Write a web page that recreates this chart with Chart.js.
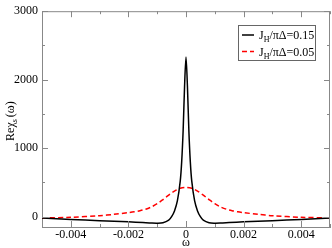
<!DOCTYPE html>
<html>
<head>
<meta charset="utf-8">
<script src="https://cdn.jsdelivr.net/npm/chart.js@4"></script>
<style>
  html, body { margin: 0; padding: 0; background: #fff; }
  #wrap { width: 332px; height: 248px; }
</style>
</head>
<body>
<div id="wrap"><canvas id="chart" width="332" height="248"></canvas></div>
<script>
// J_H/piDelta = 0.15 (black): omega and Re chi_s
const omegaStrong = [-0.005, -0.004, -0.003, -0.0025, -0.002, -0.0015, -0.0012, -0.001, -0.0008, -0.0006, -0.0005, -0.0004, -0.0003, -0.0002, -0.00015, -0.0001, -0.00005, 0,
  0.00005, 0.0001, 0.00015, 0.0002, 0.0003, 0.0004, 0.0005, 0.0006, 0.0008, 0.001, 0.0012, 0.0015, 0.002, 0.0025, 0.003, 0.004, 0.005];
const chiStrong = [-20, -40, -58, -66, -75, -86, -93, -95, -88, -50, 0, 85, 230, 520, 800, 1250, 1900, 2330,
  1900, 1250, 800, 520, 230, 85, 0, -50, -88, -95, -93, -86, -75, -66, -58, -40, -20];
// J_H/piDelta = 0.05 (red dashed)
const omegaWeak = [-0.005, -0.004, -0.003, -0.0025, -0.002, -0.0018, -0.0016, -0.0014, -0.0012, -0.001, -0.0008, -0.0006, -0.0004, -0.0002, 0,
  0.0002, 0.0004, 0.0006, 0.0008, 0.001, 0.0012, 0.0014, 0.0016, 0.0018, 0.002, 0.0025, 0.003, 0.004, 0.005];
const chiWeak = [-18, -8, 15, 35, 60, 72, 88, 110, 143, 190, 250, 315, 375, 415, 428,
  415, 375, 315, 250, 190, 143, 110, 88, 72, 60, 35, 15, -8, -18];
const seriesNames = ['0.15', '0.05'];
const xTicks = [-0.004, -0.002, 0, 0.002, 0.004];
const xMinor = [-0.005, -0.003, -0.001, 0.001, 0.003, 0.005];
const yTicks = [0, 1000, 2000, 3000];
const yMinor = [500, 1500, 2500];

const FONT = '"Liberation Serif", "DejaVu Serif", serif';
const frameColor = '#888';

function pts(xs, ys) { return xs.map((x, i) => ({ x: x, y: ys[i] })); }

// draws inward ticks on all four sides, top/right frame, titles and legend
const decor = {
  id: 'decor',
  afterDraw(chart) {
    const { ctx, chartArea: a, scales } = chart;
    const xs = scales.x, ys = scales.y;
    ctx.save();
    ctx.strokeStyle = frameColor;
    ctx.lineWidth = 1;
    ctx.beginPath();
    ctx.moveTo(a.left, a.top + 0.5); ctx.lineTo(a.right, a.top + 0.5);
    ctx.moveTo(a.right - 0.5, a.top); ctx.lineTo(a.right - 0.5, a.bottom);
    const tx = (v, len) => {
      const p = Math.round(xs.getPixelForValue(v)) + 0.5;
      ctx.moveTo(p, a.bottom); ctx.lineTo(p, a.bottom - len);
      ctx.moveTo(p, a.top); ctx.lineTo(p, a.top + len);
    };
    const ty = (v, len) => {
      const p = Math.round(ys.getPixelForValue(v)) + 0.5;
      ctx.moveTo(a.left, p); ctx.lineTo(a.left + len, p);
      ctx.moveTo(a.right, p); ctx.lineTo(a.right - len, p);
    };
    xTicks.forEach(v => tx(v, 6));
    xMinor.forEach(v => tx(v, 3));
    yTicks.forEach(v => ty(v, 6));
    yMinor.forEach(v => ty(v, 3));
    ctx.stroke();

    ctx.fillStyle = '#000';
    // x title
    ctx.font = '12px ' + FONT;
    ctx.textAlign = 'center';
    ctx.textBaseline = 'middle';
    ctx.fillText('ω', xs.getPixelForValue(0), 243);

    // y title with subscript
    ctx.save();
    ctx.translate(10, (a.top + a.bottom) / 2 + 2);
    ctx.rotate(-Math.PI / 2);
    ctx.textAlign = 'left';
    ctx.textBaseline = 'alphabetic';
    const parts = [['Reχ', 12, 0], ['s', 8, 3], ['(ω)', 12, 0]];
    let total = 0;
    parts.forEach(p => { ctx.font = p[1] + 'px ' + FONT; total += ctx.measureText(p[0]).width + (p[0] === 's' ? 2 : 0); });
    let cx = -total / 2;
    parts.forEach(p => {
      ctx.font = p[1] + 'px ' + FONT;
      ctx.fillText(p[0], cx, 4 + p[2]);
      cx += ctx.measureText(p[0]).width + (p[0] === 's' ? 2 : 0);
    });
    ctx.restore();

    // legend
    const bx = 238.5, by = 25.5, bw = 77, bh = 35;
    ctx.fillStyle = '#fff';
    ctx.fillRect(bx, by, bw, bh);
    ctx.strokeStyle = '#666';
    ctx.strokeRect(bx, by, bw, bh);
    chart.data.datasets.forEach((ds, i) => {
      const y = 35 + i * 16.5;
      ctx.strokeStyle = ds.borderColor;
      ctx.lineWidth = 1.5;
      ctx.setLineDash(ds.borderDash || []);
      ctx.beginPath();
      ctx.moveTo(242, y); ctx.lineTo(254, y);
      ctx.stroke();
      ctx.setLineDash([]);
      ctx.fillStyle = '#000';
      ctx.textAlign = 'left';
      ctx.textBaseline = 'alphabetic';
      let lx = 259;
      ctx.font = '12px ' + FONT;
      ctx.fillText('J', lx, y + 4); lx += ctx.measureText('J').width;
      ctx.font = '8px ' + FONT;
      ctx.fillText('H', lx, y + 7); lx += ctx.measureText('H').width;
      ctx.font = '12px ' + FONT;
      ctx.fillText('/πΔ=' + seriesNames[i], lx, y + 4);
    });
    ctx.restore();
  }
};

new Chart(document.getElementById('chart'), {
  type: 'scatter',
  data: {
    datasets: [
      { label: 'J_H/πΔ=0.15', data: pts(omegaStrong, chiStrong), showLine: true, borderColor: '#000', borderWidth: 1.5,
        pointRadius: 0, tension: 0.3 },
      { label: 'J_H/πΔ=0.05', data: pts(omegaWeak, chiWeak), showLine: true, borderColor: '#ff0000', borderWidth: 1.5,
        borderDash: [5, 3], pointRadius: 0, tension: 0.3 }
    ]
  },
  options: {
    responsive: false,
    animation: false,
    layout: { padding: { top: 5, right: 2, left: 0, bottom: 0 } },
    plugins: { legend: { display: false }, tooltip: { enabled: false } },
    scales: {
      x: {
        type: 'linear', min: -0.005, max: 0.005,
        afterBuildTicks: s => { s.ticks = xTicks.map(v => ({ value: v })); },
        afterFit: s => { s.height = 21; },
        grid: { display: false, drawTicks: false },
        border: { color: frameColor },
        ticks: { color: '#000', font: { family: FONT, size: 12 }, padding: 1,
          maxRotation: 0, autoSkip: false, callback: v => (v === 0 ? '0' : String(+v.toFixed(3))) }
      },
      y: {
        type: 'linear', min: -150, max: 3000,
        afterBuildTicks: s => { s.ticks = yTicks.map(v => ({ value: v })); },
        afterFit: s => { s.width = 42; },
        grid: { display: false, drawTicks: false },
        border: { color: frameColor },
        ticks: { color: '#000', font: { family: FONT, size: 12 }, padding: 4, callback: v => String(v) }
      }
    }
  },
  plugins: [decor]
});
</script>
</body>
</html>
